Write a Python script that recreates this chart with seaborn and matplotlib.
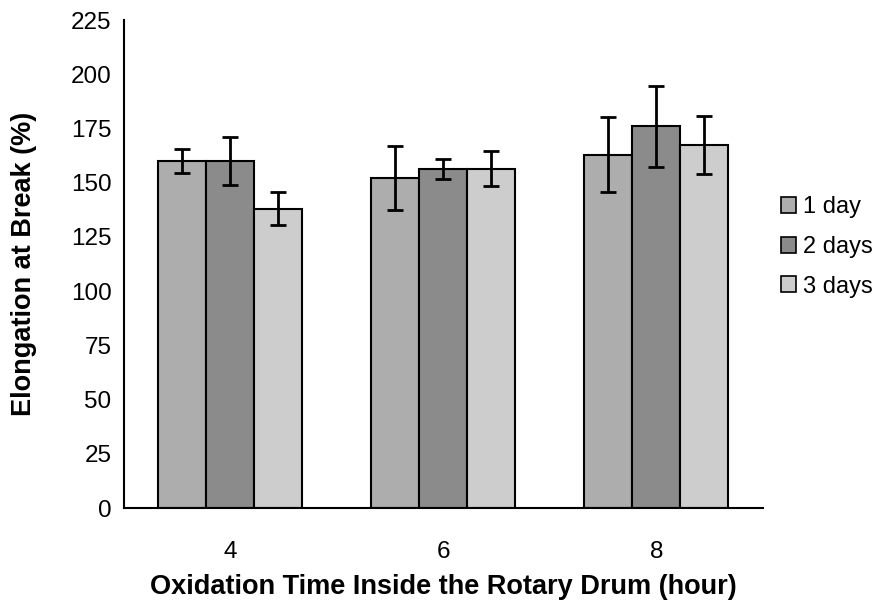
import numpy as np
import pandas as pd
import matplotlib
matplotlib.use('Agg')
import matplotlib.pyplot as plt
import seaborn as sns

# Datos
tiempos = ['4', '6', '8']
series = ['1 day', '2 days', '3 days']
elong_1d = [160, 152, 163]
elong_2d = [160, 156.5, 176]
elong_3d = [138, 156.5, 167.5]
err_1d = [5.5, 14.7, 17.5]
err_2d = [11, 4.6, 18.8]
err_3d = [7.5, 8.2, 13.3]
colores = ['#adadad', '#8b8b8b', '#cdcdcd']

sns.set_style('white')
plt.rcParams['font.family'] = ['Liberation Sans', 'DejaVu Sans']
plt.rcParams['text.color'] = 'black'
plt.rcParams['axes.labelcolor'] = 'black'
plt.rcParams['xtick.color'] = 'black'
plt.rcParams['ytick.color'] = 'black'

df = pd.DataFrame({
    'tiempo': tiempos * 3,
    'serie': [s for s in series for _ in tiempos],
    'valor': elong_1d + elong_2d + elong_3d,
    'err': err_1d + err_2d + err_3d,
})

fig = plt.figure(figsize=(8.78, 6.11), dpi=100)
ax = fig.add_axes([0.1412, 0.1685, 0.7278, 0.7987])

sns.barplot(data=df, x='tiempo', y='valor', hue='serie', order=tiempos,
            hue_order=series, palette=colores, errorbar=None, width=0.676,
            edgecolor='black', linewidth=1.5, saturation=1, ax=ax)

# Barras de error sobre el centro de cada barra
barras = [p for p in ax.patches if p.get_height() > 0][:9]
for p, e in zip(barras, df['err']):
    xc = p.get_x() + p.get_width() / 2
    ax.errorbar(xc, p.get_height(), yerr=e, fmt='none', ecolor='black',
                elinewidth=2, capsize=6, capthick=2)

ax.set_ylim(0, 225)
ax.set_yticks(np.arange(0, 226, 25))
ax.set_xlim(-0.5, 2.5)
ax.set_xticks([0, 1, 2])
ax.set_xticklabels(tiempos)
ax.set_xticks([-0.5, 0.5, 1.5, 2.5], minor=True)
ax.tick_params(axis='x', which='major', length=0, labelsize=17.5, pad=24)
ax.tick_params(axis='x', which='minor', length=6, width=1.5, direction='out')
ax.tick_params(axis='y', length=5, width=1.5, direction='out', labelsize=17.5, pad=4)
for s in ['top', 'right']:
    ax.spines[s].set_visible(False)
for s in ['left', 'bottom']:
    ax.spines[s].set_linewidth(1.5)
    ax.spines[s].set_color('black')

ax.set_xlabel('Oxidation Time Inside the Rotary Drum (hour)', fontsize=19.5,
              fontweight='bold', labelpad=8)
ax.set_ylabel('Elongation at Break (%)', fontsize=19.5, fontweight='bold',
              labelpad=24)

leg = ax.legend(loc='center left', bbox_to_anchor=(1.003, 0.535), frameon=False,
                fontsize=17, handlelength=0.6, handleheight=0.65,
                handletextpad=0.3, labelspacing=0.75, borderpad=0.2)
for h in leg.legend_handles:
    h.set_linewidth(1.2)

plt.savefig('out.png', dpi=100)
